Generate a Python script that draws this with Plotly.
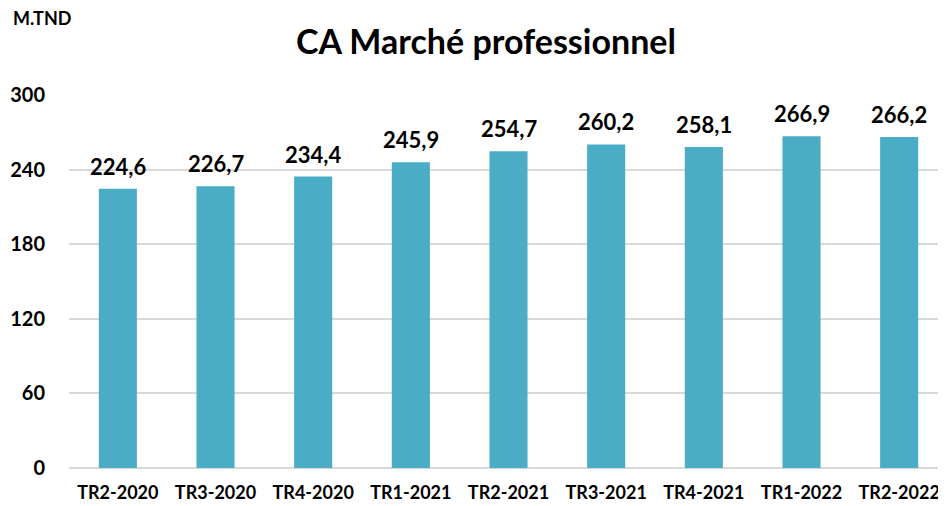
import plotly.graph_objects as go

categories = ["TR2-2020", "TR3-2020", "TR4-2020", "TR1-2021", "TR2-2021",
              "TR3-2021", "TR4-2021", "TR1-2022", "TR2-2022"]
values = [224.6, 226.7, 234.4, 245.9, 254.7, 260.2, 258.1, 266.9, 266.2]
y_ticks = [0, 60, 120, 180, 240, 300]

FONT = "Lato"
W, H = 940, 498
L, T, B = 61, 87, 38
PW, PH = W - L, H - T - B

fig = go.Figure(go.Bar(
    x=categories, y=values,
    marker=dict(color="#4BACC6", line=dict(width=0)),
    cliponaxis=False,
))

label_font = dict(family=FONT, size=22, color="black", weight="bold")
annotations = [
    dict(x=c, y=v, xref="x", yref="y", text=f"<b>{v:.1f}</b>".replace(".", ","),
         showarrow=False, xanchor="center", yanchor="bottom", yshift=7,
         font=label_font)
    for c, v in zip(categories, values)
]
annotations.append(dict(text="<b>M.TND</b>", xref="paper", yref="paper",
                        x=(3 - L) / PW, y=1 + (T - 10) / PH,
                        xanchor="left", yanchor="middle", showarrow=False,
                        font=dict(family=FONT, size=18, color="black")))

fig.update_layout(
    width=W, height=H,
    margin=dict(l=L, r=0, t=T, b=B),
    paper_bgcolor="white", plot_bgcolor="white",
    separators=", ",
    bargap=0.61,
    showlegend=False,
    title=dict(text="<b>CA Marché professionnel</b>", x=478 / W, xanchor="center",
               y=1 - 34 / H, yanchor="middle",
               font=dict(family=FONT, size=34, color="black")),
    annotations=annotations,
)
fig.update_yaxes(range=[0, 300], tickvals=y_ticks, showgrid=True,
                 gridcolor="#d9d9d9", gridwidth=2, zeroline=True,
                 zerolinecolor="#d9d9d9", zerolinewidth=2,
                 ticklabelstandoff=23,
                 tickfont=dict(family=FONT, size=20, color="black", weight="bold"))
fig.update_xaxes(showline=False, ticks="", ticklabelstandoff=12,
                 tickfont=dict(family=FONT, size=18, color="black", weight="bold"))

fig.write_html("out.html")
